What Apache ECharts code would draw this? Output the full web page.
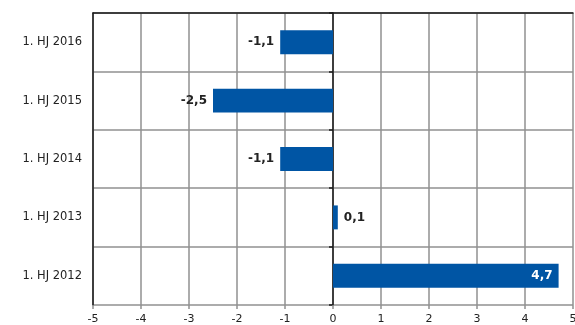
<!DOCTYPE html>
<html>
<head>
<meta charset="utf-8">
<script src="https://cdn.jsdelivr.net/npm/echarts@6/dist/echarts.min.js"></script>
<style>html,body{margin:0;padding:0;background:#fff}#c{width:575px;height:325px}</style>
</head>
<body>
<div id="c"></div>
<script>
// Half-year change values, bottom to top
const categories = ['1. HJ 2012', '1. HJ 2013', '1. HJ 2014', '1. HJ 2015', '1. HJ 2016'];
const values = [4.7, 0.1, -1.1, -2.5, -1.1];
const xTicks = { min: -5, max: 5, interval: 1 };

const FONT = 'DejaVu Sans';
const GRID = '#909090';
const fmt = v => String(v).replace('.', ',');

const chart = echarts.init(document.getElementById('c'));
chart.setOption({
  animation: false,
  textStyle: { fontFamily: FONT },
  grid: { left: 93, right: 2, top: 13, bottom: 20, outerBoundsMode: 'none', containLabel: false },
  xAxis: [
    {
      type: 'value', min: xTicks.min, max: xTicks.max, interval: xTicks.interval,
      position: 'bottom',
      axisLine: { onZero: false, lineStyle: { color: GRID, width: 1.5 } },
      axisTick: { show: true, length: 4, lineStyle: { color: GRID, width: 1.5 } },
      axisLabel: { color: '#222', fontSize: 11, margin: 9, formatter: v => String(v) },
      splitLine: { show: true, lineStyle: { color: GRID, width: 1.5 } }
    },
    {
      type: 'value', min: xTicks.min, max: xTicks.max, interval: xTicks.interval,
      position: 'top',
      axisLine: { show: true, onZero: false, lineStyle: { color: '#1a1a1a', width: 1.5 } },
      axisTick: { show: false }, axisLabel: { show: false }, splitLine: { show: false }
    }
  ],
  yAxis: [
    {
      type: 'category', data: categories, position: 'left',
      axisLine: { show: true, onZero: false, lineStyle: { color: '#1a1a1a', width: 1.5 } },
      axisTick: { show: false },
      axisLabel: { color: '#222', fontSize: 11.5, margin: 11 },
      splitLine: { show: true, lineStyle: { color: GRID, width: 1.5 } }
    },
    {
      type: 'category', data: categories, position: 'left',
      axisLine: { show: true, onZero: true, onZeroAxisIndex: 0, lineStyle: { color: '#1a1a1a', width: 1.5 } },
      axisTick: { show: true, length: 4, lineStyle: { color: '#1a1a1a', width: 1.5 } },
      axisLabel: { show: false }, splitLine: { show: false }
    }
  ],
  series: [{
    type: 'bar',
    xAxisIndex: 0, yAxisIndex: 0,
    data: values.map(v => ({
      value: v,
      label: v > 1 ? { position: 'insideRight', color: '#fff', distance: 6 }
           : v < 0 ? { position: 'left', color: '#222', distance: 6 }
           : { position: 'right', color: '#222', distance: 6 }
    })),
    barWidth: '41%',
    itemStyle: { color: '#0055a4' },
    label: { show: true, fontSize: 12, fontWeight: 'bold', formatter: p => fmt(p.value) }
  }]
});
</script>
</body>
</html>
